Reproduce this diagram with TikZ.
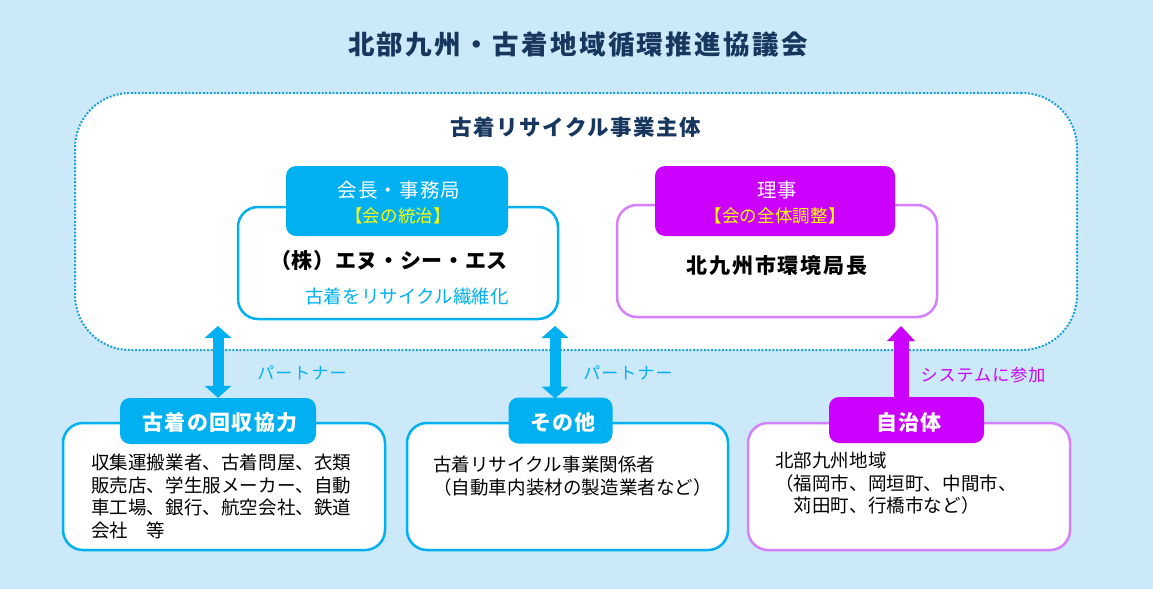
\documentclass[tikz,border=0pt]{standalone}
\usepackage{fontspec}
\setmainfont{Noto Sans CJK JP}
\usetikzlibrary{arrows.meta}
\definecolor{bg}{HTML}{CCE9F9}
\definecolor{navy}{HTML}{17375E}
\definecolor{dotc}{HTML}{1BA1DA}
\definecolor{cy}{HTML}{00B0F0}
\definecolor{pu}{HTML}{CC00FF}
\definecolor{pbord}{HTML}{D580FF}
\definecolor{yel}{HTML}{FFFF00}
\tikzset{
  box/.style={draw, line width=2.5pt, fill=white, rounded corners=20pt, inner sep=0pt},
  cbox/.style={box, draw=cy},
  pbox/.style={box, draw=pbord},
  tabbox/.style={rounded corners=10pt, inner sep=0pt, align=center, text=white},
  ctab/.style={tabbox, fill=cy},
  ptab/.style={tabbox, fill=pu},
  tabtxt/.style={font=\fontsize{21}{24}\selectfont\bfseries\addfontfeatures{LetterSpace=7}},
  body/.style={anchor=north west, inner sep=0pt, align=left,
    font=\fontsize{18.5}{22.5}\selectfont\addfontfeatures{LetterSpace=0.5}},
  lbl/.style={inner sep=0pt, font=\fontsize{17}{20}\selectfont\addfontfeatures{LetterSpace=6}},
  carrow/.style={draw=cy, line width=11pt,
    {Triangle[width=27pt,length=12pt,line width=0pt]}-{Triangle[width=27pt,length=12pt,line width=0pt]}},
  parrow/.style={draw=pu, line width=15pt,
    -{Triangle[width=28pt,length=15pt,line width=0pt]}}
}
\begin{document}
\begin{tikzpicture}[x=1pt,y=-1pt]
\fill[bg] (0,0) rectangle (1153,589);
\useasboundingbox (0,0) rectangle (1153,589);

% title
\node[inner sep=0pt, text=navy, font=\fontsize{26.5}{30}\selectfont\bfseries\addfontfeatures{LetterSpace=9}] (title) at (578,44) {北部九州・古着地域循環推進協議会};

% outer dotted region
\node[draw=dotc, line width=2pt, dash pattern=on 2pt off 1.6pt, fill=white, rounded corners=55pt,
  minimum width=1002pt, minimum height=257pt, inner sep=0pt] (outer) at (576,221.5) {};
\node[inner sep=0pt, text=navy, font=\fontsize{21.5}{24}\selectfont\bfseries\addfontfeatures{LetterSpace=7}] (sub) at (576,127) {古着リサイクル事業主体};

% left top box
\node[cbox, minimum width=320pt, minimum height=112pt] (lbox) at (398,263) {};
\node[ctab, minimum width=222pt, minimum height=70pt] (ltab) at (397,201) {};
\node[inner sep=0pt, text=white, font=\fontsize{19.5}{22}\selectfont\addfontfeatures{LetterSpace=6}] (ltab1) at (399,190) {会長・事務局};
\node[inner sep=0pt, text=yel, font=\fontsize{17.5}{20}\selectfont\addfontfeatures{LetterSpace=1}] (ltab2) at (398,216) {【会の統治】};
\node[inner sep=0pt, font=\fontsize{21}{24}\selectfont\bfseries\addfontfeatures{LetterSpace=3}] (nsc) at (389,261) {（株）エヌ・シー・エス};
\node[inner sep=0pt, text=cy, font=\fontsize{18.5}{22}\selectfont\addfontfeatures{LetterSpace=0.5}] (nsc2) at (407,296) {古着をリサイクル繊維化};

% right top box
\node[pbox, minimum width=320pt, minimum height=112pt] (rbox) at (777,261) {};
\node[ptab, minimum width=240pt, minimum height=70pt] (rtab) at (775,201) {};
\node[inner sep=0pt, text=white, font=\fontsize{19.5}{22}\selectfont\addfontfeatures{LetterSpace=2}] (rtab1) at (777,190) {理事};
\node[inner sep=0pt, text=yel, font=\fontsize{17.5}{20}\selectfont\addfontfeatures{LetterSpace=1}] (rtab2) at (775,216) {【会の全体調整】};
\node[inner sep=0pt, font=\fontsize{21}{24}\selectfont\bfseries\addfontfeatures{LetterSpace=9}] (kita) at (777,266) {北九州市環境局長};

% bottom boxes
\node[cbox, minimum width=322pt, minimum height=127pt] (bl) at (224,486.5) {};
\node[ctab, minimum width=196pt, minimum height=46pt] (blt) at (218,421) {};
\node[tabtxt, text=white, inner sep=0pt] (blt1) at (220,423) {古着の回収協力};
\node[body] (bltx) at (91,454) {収集運搬業者、古着問屋、衣類\\販売店、学生服メーカー、自動\\車工場、銀行、航空会社、鉄道\\会社　等};

\node[cbox, minimum width=321pt, minimum height=127pt] (bm) at (567.5,486.5) {};
\node[ctab, minimum width=104pt, minimum height=46pt] (bmt) at (560.5,420.5) {};
\node[tabtxt, text=white, inner sep=0pt] (bmt1) at (563,423) {その他};
\node[body] (bmtx) at (433,456) {古着リサイクル事業関係者\\（自動車内装材の製造業者など）};

\node[pbox, minimum width=322pt, minimum height=127pt] (br) at (909,486.5) {};
\node[ptab, minimum width=155pt, minimum height=46pt] (brt) at (906.5,420) {};
\node[tabtxt, text=white, inner sep=0pt] (brt1) at (909,422) {自治体};
\node[body] (brtx) at (775,452) {北部九州地域\\（福岡市、岡垣町、中間市、\\　苅田町、行橋市など）};

% arrows
\coordinate (a1t) at (218,326);
\coordinate (a2t) at (555,326);
\coordinate (a2b) at (555,398.5);
\coordinate (a3t) at (901,326);
\draw[carrow] (blt.north -| a1t) -- (a1t);
\draw[carrow] (a2b) -- (a2t);
\draw[parrow] (brt.north -| a3t) -- (a3t);

\node[lbl, text=cy] (p1) at (302,373) {パートナー};
\node[lbl, text=cy] (p2) at (628,373) {パートナー};
\node[lbl, text=pu] (p3) at (983,375) {システムに参加};
\end{tikzpicture}
\end{document}
